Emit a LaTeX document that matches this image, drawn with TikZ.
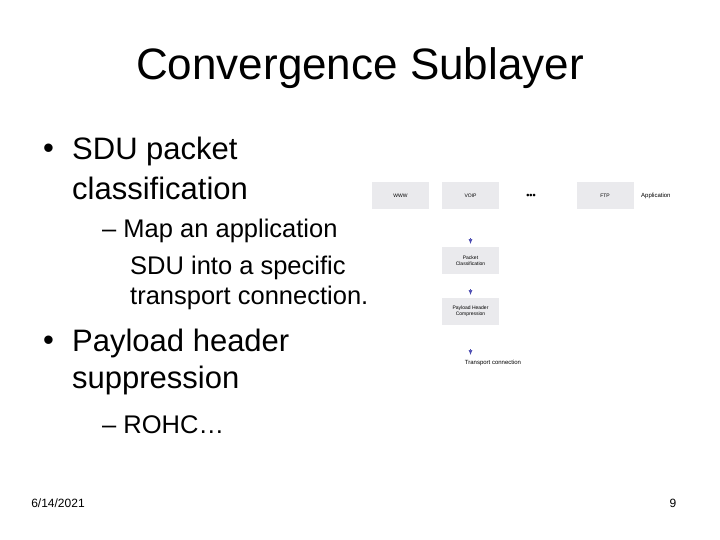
\documentclass[tikz,border=0pt]{standalone}
\usepackage{fontspec}
\usetikzlibrary{arrows.meta}
\setmainfont{Liberation Sans}
\begin{document}
\begin{tikzpicture}[x=1pt,y=-1pt,
  txt/.style={anchor=west,inner sep=0,font=\fontsize{31}{33}\selectfont},
  sub/.style={anchor=west,inner sep=0,font=\fontsize{25.5}{28}\selectfont},
  box/.style={fill=blue!8!gray!15,minimum width=57pt,minimum height=27pt,inner sep=0,font=\fontsize{5}{6}\selectfont,align=center},
  arr/.style={-{Latex[length=5pt,width=4pt]},draw=gray!60!blue,line width=0.6pt}]
\useasboundingbox (0,0) rectangle (720,540);
\node[inner sep=0,font=\fontsize{44}{48}\selectfont] (title) at (360,68) {Convergence Sublayer};
\node[anchor=west,inner sep=0,font=\fontsize{31}{33}\selectfont] (bl1) at (43,151) {•};
\node[txt] (b1) at (72,151) {SDU packet};
\node[txt] (b1b) at (72,188) {classification};
\node[sub] (s1) at (102,231) {– Map an application};
\node[sub] (s1b) at (130,268) {SDU into a specific};
\node[sub] (s1c) at (130,298) {transport connection.};
\node[anchor=west,inner sep=0,font=\fontsize{31}{33}\selectfont] (bl2) at (43,343) {•};
\node[txt] (b2) at (72,343) {Payload header};
\node[txt] (b2b) at (72,380) {suppression};
\node[sub] (s2) at (102,425) {– ROHC…};
\node[inner sep=0,font=\fontsize{12}{14}\selectfont] (date) at (58,503) {6/14/2021};
\node[inner sep=0,font=\fontsize{12}{14}\selectfont] (pg) at (673,503) {9};
\node[box] (www) at (400.5,195.5) {WWW};
\node[box] (voip) at (470.5,195.5) {VOIP};
\node[inner sep=0,font=\fontsize{9}{10}\selectfont\bfseries] (dots) at (531,196) {•••};
\node[box] (ftp) at (605,195.5) {FTP};
\node[anchor=west,inner sep=0,font=\fontsize{6}{7}\selectfont] (app) at (641,196) {Application};
\node[box] (pc) at (470.5,260.5) {Packet\\Classification};
\node[box] (phc) at (470.5,311.5) {Payload Header\\Compression};
\node[inner sep=0,font=\fontsize{6}{7}\selectfont] (tc) at (493,363) {Transport connection};
\coordinate (a1) at (470.5,238);
\coordinate (a1e) at (470.5,244);
\coordinate (a2) at (470.5,289);
\coordinate (a2e) at (470.5,295);
\coordinate (a3) at (470.5,349);
\coordinate (a3e) at (470.5,355);
\draw[arr] (a1) -- (a1e);
\draw[arr] (a2) -- (a2e);
\draw[arr] (a3) -- (a3e);
\end{tikzpicture}
\end{document}
